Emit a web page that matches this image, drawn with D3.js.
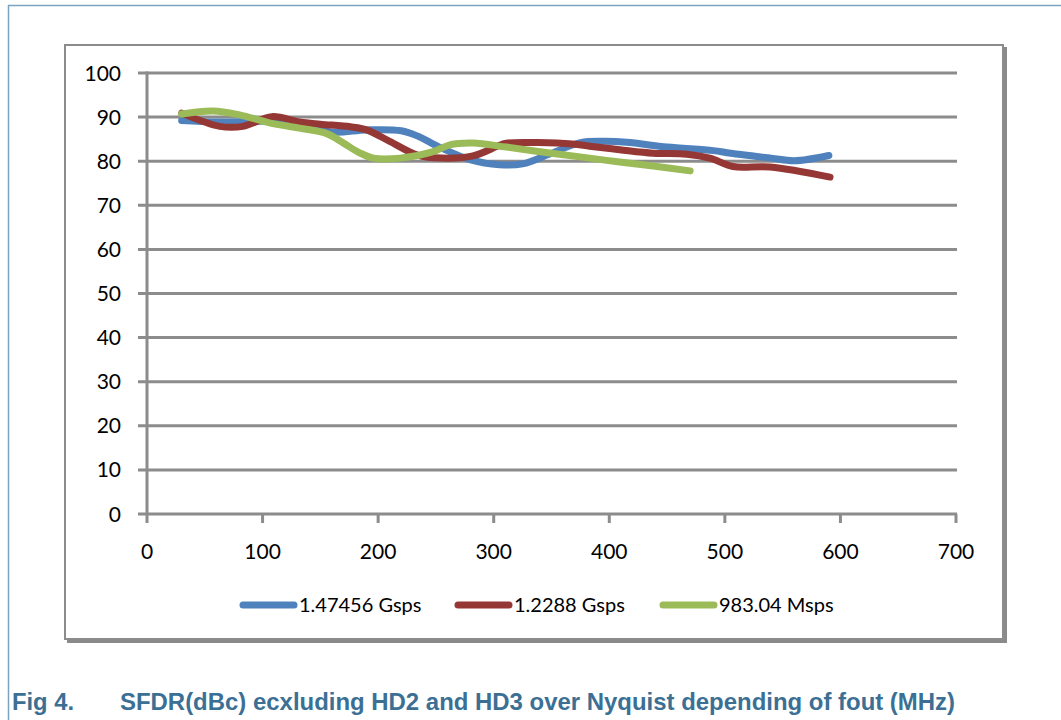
<!DOCTYPE html>
<html><head><meta charset="utf-8">
<script src="https://cdn.jsdelivr.net/npm/d3@7"></script>
<style>html,body{margin:0;padding:0;background:#fff;}</style>
</head><body>
<svg id="c" width="1061" height="720"></svg>
<script>
const seriesNames = ["1.47456 Gsps", "1.2288 Gsps", "983.04 Msps"];
const seriesColors = ["#4f81bd", "#953735", "#9bbb59"];
const blueF = [30, 60, 90, 110, 130, 160, 190, 220, 235, 253, 280, 305, 325, 350, 375, 395, 415, 450, 490, 505, 540, 560, 590];
const blueV = [89.2, 88.9, 89.0, 89.1, 88.6, 86.6, 87.1, 86.9, 85.6, 83.2, 80.3, 79.2, 79.4, 81.8, 84.2, 84.5, 84.3, 83.2, 82.4, 81.8, 80.7, 80.1, 81.3];
const redF = [30, 63, 83, 108, 132, 150, 176, 190, 210, 234, 255, 282, 305, 311, 368, 383, 409, 438, 467, 487, 507, 539, 591];
const redV = [90.9, 87.9, 87.9, 90.1, 88.9, 88.4, 87.8, 87.1, 84.5, 81.4, 80.7, 81.2, 83.6, 84.1, 83.9, 83.4, 82.6, 81.8, 81.6, 80.7, 78.8, 78.7, 76.4];
const greenF = [30, 57, 80, 106, 132, 156, 170, 184, 196, 219, 247, 262, 282, 311, 350, 383, 409, 438, 470];
const greenV = [90.7, 91.4, 90.5, 88.7, 87.5, 86.2, 84.1, 81.9, 80.7, 80.7, 82.1, 83.7, 84.1, 83.2, 81.8, 80.7, 79.8, 78.9, 77.8];
const xTicks = [0, 100, 200, 300, 400, 500, 600, 700];
const yTicks = [0, 10, 20, 30, 40, 50, 60, 70, 80, 90, 100];
const captionLabel = "Fig 4.";
const captionText = "SFDR(dBc) ecxluding HD2 and HD3 over Nyquist depending of fout (MHz)";

const series = [
  {name: seriesNames[0], color: seriesColors[0], pts: blueF.map((f,i)=>[f, blueV[i]])},
  {name: seriesNames[1], color: seriesColors[1], pts: redF.map((f,i)=>[f, redV[i]])},
  {name: seriesNames[2], color: seriesColors[2], pts: greenF.map((f,i)=>[f, greenV[i]])}
];

const svg = d3.select("#c");
const frameCol = "#7aa3bf";
svg.append("line").attr("x1",8).attr("x2",1061).attr("y1",5.5).attr("y2",5.5).attr("stroke",frameCol).attr("stroke-width",1.5);
svg.append("line").attr("x1",8.5).attr("x2",8.5).attr("y1",5).attr("y2",720).attr("stroke",frameCol).attr("stroke-width",1.5);

svg.append("rect").attr("x",67).attr("y",47).attr("width",940).attr("height",596).attr("fill","#8a8a8a");
svg.append("rect").attr("x",65).attr("y",45).attr("width",938).attr("height",594).attr("fill","#fff").attr("stroke","#8c8c8c").attr("stroke-width",2);

const x = d3.scaleLinear().domain([0,700]).range([147,956]);
const y = d3.scaleLinear().domain([0,100]).range([514,73]);
const gridCol = "#8c8c8c";

svg.append("g").selectAll("line").data(yTicks).join("line")
  .attr("x1",138).attr("x2",957).attr("y1",d=>y(d)).attr("y2",d=>y(d))
  .attr("stroke",gridCol).attr("stroke-width",3);
svg.append("line").attr("x1",x(0)).attr("x2",x(0)).attr("y1",y(100)-1.5).attr("y2",523).attr("stroke",gridCol).attr("stroke-width",3);
svg.append("g").selectAll("line").data(xTicks.slice(1)).join("line")
  .attr("x1",d=>x(d)).attr("x2",d=>x(d)).attr("y1",y(0)).attr("y2",523)
  .attr("stroke",gridCol).attr("stroke-width",3);

const tf = "Lato, 'Open Sans', sans-serif";
svg.append("g").selectAll("text").data(yTicks).join("text")
  .attr("x",121).attr("y",d=>y(d)).attr("dy","0.36em").attr("text-anchor","end")
  .attr("font-family",tf).attr("font-size",21).attr("fill","#000").text(d=>d);
svg.append("g").selectAll("text").data(xTicks).join("text")
  .attr("x",d=>x(d)).attr("y",551).attr("dy","0.36em").attr("text-anchor","middle")
  .attr("font-family",tf).attr("font-size",21).attr("fill","#000").text(d=>d);

const line = d3.line().x(d=>x(d[0])).y(d=>y(d[1])).curve(d3.curveCatmullRom.alpha(0.5));
svg.append("g").selectAll("path").data(series).join("path")
  .attr("d",d=>line(d.pts)).attr("fill","none").attr("stroke",d=>d.color)
  .attr("stroke-width",7).attr("stroke-linecap","round").attr("stroke-linejoin","round");

const legX = [240, 455, 660];
const lg = svg.append("g").selectAll("g").data(series).join("g")
  .attr("transform",(d,i)=>`translate(${legX[i]},605)`);
lg.append("line").attr("x1",3).attr("x2",54).attr("y1",0).attr("y2",0)
  .attr("stroke",d=>d.color).attr("stroke-width",7).attr("stroke-linecap","round");
lg.append("text").attr("x",59).attr("y",0).attr("dy","0.36em")
  .attr("font-family",tf).attr("font-size",20).attr("fill","#000").text(d=>d.name);

const capCol = "#3b7094";
const capFont = "'Liberation Sans Narrow', 'Liberation Sans', Arial, sans-serif";
svg.append("text").attr("x",12).attr("y",710).attr("font-family",capFont)
  .attr("font-weight","bold").attr("font-size",24).attr("fill",capCol)
  .attr("textLength",62).attr("lengthAdjust","spacingAndGlyphs").text(captionLabel);
svg.append("text").attr("x",120).attr("y",710).attr("font-family",capFont)
  .attr("font-weight","bold").attr("font-size",24).attr("fill",capCol)
  .attr("textLength",835).attr("lengthAdjust","spacingAndGlyphs").text(captionText);
</script>
</body></html>
